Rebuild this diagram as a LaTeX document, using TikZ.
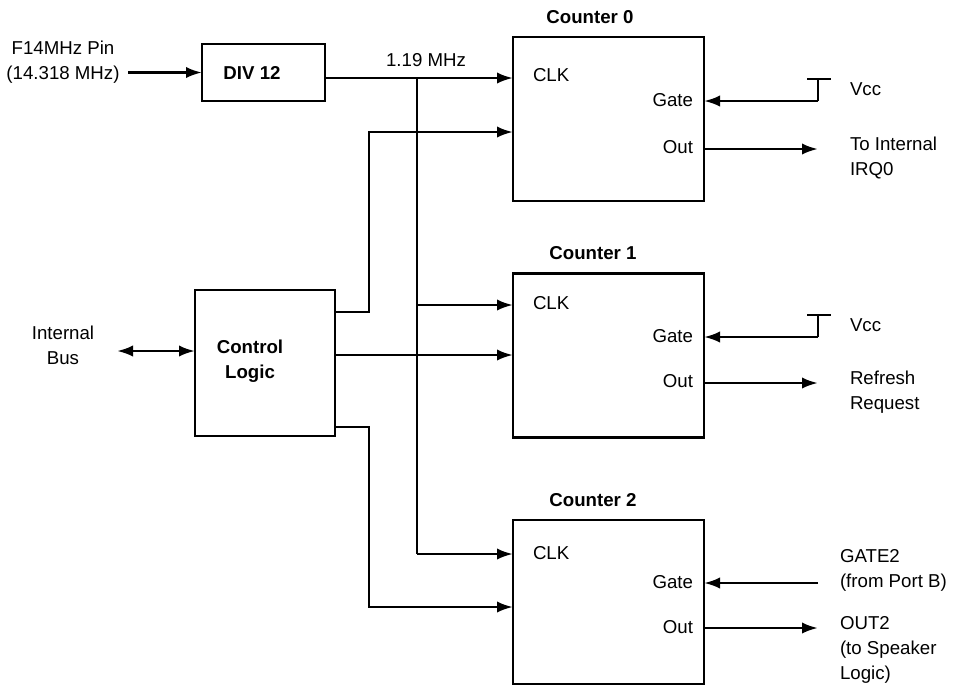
\documentclass[tikz,border=0pt]{standalone}
\usepackage{fontspec}
\setmainfont{Liberation Sans}
\usetikzlibrary{arrows.meta,calc}
\begin{document}
\begin{tikzpicture}[x=0.75pt,y=-0.75pt,
  every node/.style={font=\fontsize{14}{18.75}\selectfont, inner sep=0pt, outer sep=0pt},
  box/.style={draw, line width=2pt, rectangle},
  ctrbox/.style={box, minimum width=143.25pt, minimum height=123pt},
  wire/.style={line width=2pt},
  arr/.style={wire, -{Latex[length=12pt,width=8.5pt]}},
  dblarr/.style={wire, {Latex[length=12pt,width=8.5pt]}-{Latex[length=12pt,width=8.5pt]}},
  boldtxt/.style={font=\fontsize{14}{18.75}\selectfont\bfseries},
  pin/.style={anchor=west},
  pinr/.style={anchor=east},
  side/.style={anchor=north west, align=left}
]
\useasboundingbox (0,0) rectangle (958,687);

% ---------- boxes ----------
\node[ctrbox] (c0) at (608.5,119) {};
\node[ctrbox] (c1) at (608.5,355.5) {};
\node[ctrbox] (c2) at (608.5,602) {};
\node[box, minimum width=92.25pt, minimum height=42.75pt] (div) at (263.5,72.5) {};
\node[box, minimum width=105pt, minimum height=109.5pt] (ctl) at (265,363) {};

% ---------- box texts ----------
\node[boldtxt] (divt) at (252,73) {DIV 12};
\node[boldtxt, align=center] (ctlt) at (250,361) {Control\\Logic};
\node[boldtxt] (c0t) at (590,17) {Counter 0};
\node[boldtxt] (c1t) at (593,253) {Counter 1};
\node[boldtxt] (c2t) at (593,500) {Counter 2};

% ---------- pin coordinates ----------
\coordinate (c0clk) at (513,78);
\coordinate (c0ctl) at (513,132);
\coordinate (c0gate) at (704,101);
\coordinate (c0out) at (704,149);
\coordinate (c1clk) at (513,305);
\coordinate (c1ctl) at (513,355);
\coordinate (c1gate) at (704,337);
\coordinate (c1out) at (704,383);
\coordinate (c2clk) at (513,554);
\coordinate (c2ctl) at (513,607);
\coordinate (c2gate) at (704,583);
\coordinate (c2out) at (704,628);

% ---------- pin labels ----------
\node[pin] (c0clkt) at (533,75) {CLK};
\node[pinr] (c0gatet) at (693,100) {Gate};
\node[pinr] (c0outt) at (693,147) {Out};
\node[pin] (c1clkt) at (533,303) {CLK};
\node[pinr] (c1gatet) at (693,336) {Gate};
\node[pinr] (c1outt) at (693,381) {Out};
\node[pin] (c2clkt) at (533,553) {CLK};
\node[pinr] (c2gatet) at (693,582) {Gate};
\node[pinr] (c2outt) at (693,627) {Out};

% ---------- input / clock ----------
\node[align=center] (inp) at (63,62) {F14MHz Pin\\(14.318 MHz)};
\coordinate (inA) at (128,72.5);
\draw[arr] (inA) -- (div.west);
\draw[arr] (div.east |- c0clk) -- (c0clk);
\node (mhz) at (426,60) {1.19 MHz};
\coordinate (tap) at (417,78);
\draw[wire] (tap) -- (tap |- c2clk);
\draw[arr] (tap |- c1clk) -- (c1clk);
\draw[arr] (tap |- c2clk) -- (c2clk);

% ---------- internal bus ----------
\node[align=center] (bus) at (63,345) {Internal\\Bus};
\coordinate (busA) at (117,351);
\draw[dblarr] (busA) -- (ctl.west |- busA);

% ---------- control logic outputs ----------
\coordinate (cu) at (335,312);
\coordinate (cm) at (335,355);
\coordinate (cl) at (335,427);
\coordinate (cx) at (369,0);
\draw[arr] (cu) -- (cx |- cu) -- (cx |- c0ctl) -- (c0ctl);
\draw[arr] (cm) -- (c1ctl);
\draw[arr] (cl) -- (cx |- cl) -- (cx |- c2ctl) -- (c2ctl);

% ---------- gates ----------
\coordinate (vx) at (818,0);
\draw[arr] (vx |- c0gate) -- (c0gate);
\draw[wire] (vx |- c0gate) -- ++(0,-22) coordinate (v0top);
\draw[wire] ($(v0top)+(-11,0)$) -- ($(v0top)+(13,0)$);
\node[pin] (vcc0) at (850,89) {Vcc};

\draw[arr] (vx |- c1gate) -- (c1gate);
\draw[wire] (vx |- c1gate) -- ++(0,-22) coordinate (v1top);
\draw[wire] ($(v1top)+(-11,0)$) -- ($(v1top)+(13,0)$);
\node[pin] (vcc1) at (850,325) {Vcc};

\draw[arr] (vx |- c2gate) -- (c2gate);
\node[side] (g2) at (840,549) {GATE2\\(from Port B)};

% ---------- outputs ----------
\draw[arr] (c0out) -- (vx |- c0out);
\node[side] (o0) at (850,137) {To Internal\\IRQ0};
\draw[arr] (c1out) -- (vx |- c1out);
\node[side] (o1) at (850,371) {Refresh\\Request};
\draw[arr] (c2out) -- (vx |- c2out);
\node[side] (o2) at (840,616) {OUT2\\(to Speaker\\Logic)};
\end{tikzpicture}
\end{document}
